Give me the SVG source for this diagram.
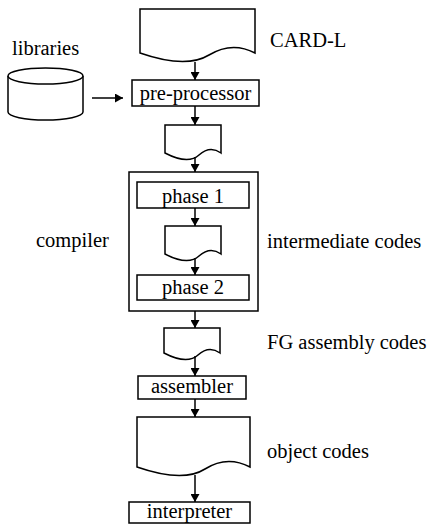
<svg xmlns="http://www.w3.org/2000/svg" width="429" height="524" viewBox="0 0 429 524">
<style>
.s{fill:#fff;stroke:#000;stroke-width:1.5}
.t{font-family:'Liberation Serif','Times New Roman',serif;font-size:20.5px;fill:#000}
.c{text-anchor:middle}
.l{stroke:#000;stroke-width:1.5;fill:none}
</style>
<defs>
<marker id="ah" markerWidth="8" markerHeight="9" refX="8" refY="4.5" orient="auto" markerUnits="userSpaceOnUse">
<path d="M0,0 L8,4.5 L0,9 Z" fill="#000"/>
</marker>
</defs>
<rect width="429" height="524" fill="#fff"/>
<g id="card-l">
<path class="s" d="M140,9 H255 V53 Q232,41 209,55 T140,53 Z"/>
<text class="t" x="270" y="47">CARD-L</text>
</g>
<g id="libraries">
<path class="s" d="M8,76 V112 A37.5,8 0 0 0 83,112 V76"/>
<ellipse class="s" cx="45.5" cy="76" rx="37.5" ry="8"/>
<text class="t" x="12" y="55">libraries</text>
</g>
<g id="pre-processor">
<rect class="s" x="132" y="80" width="127" height="26"/>
<text class="t c" x="195.5" y="100">pre-processor</text>
</g>
<g id="doc1">
<path class="s" d="M165,125 H221 V153 Q210,145 199,155 T165,153 Z"/>
</g>
<g id="compiler">
<rect class="s" x="129" y="172" width="129" height="139"/>
<text class="t" x="36" y="247">compiler</text>
</g>
<g id="phase1">
<rect class="s" x="137" y="182" width="112" height="26"/>
<text class="t c" x="193" y="203">phase 1</text>
</g>
<g id="intermediate">
<path class="s" d="M165,226 H221 V254 Q210,246 199,256 T165,254 Z"/>
<text class="t" x="267" y="248">intermediate codes</text>
</g>
<g id="phase2">
<rect class="s" x="137" y="275" width="112" height="25"/>
<text class="t c" x="193" y="294">phase 2</text>
</g>
<g id="fg-assembly">
<path class="s" d="M164,328 H220 V353 Q209,345 198,355 T164,353 Z"/>
<text class="t" x="267" y="349">FG assembly codes</text>
</g>
<g id="assembler">
<rect class="s" x="138" y="376" width="108" height="23"/>
<text class="t c" x="192" y="393">assembler</text>
</g>
<g id="object">
<path class="s" d="M137,417 H250 V467 Q227,455 205,469 T137,467 Z"/>
<text class="t" x="267" y="458">object codes</text>
</g>
<g id="interpreter">
<rect class="s" x="129" y="502" width="121" height="21"/>
<text class="t c" x="189.5" y="518">interpreter</text>
</g>
<g id="connectors">
<line class="l" x1="195" y1="62" x2="195" y2="80" marker-end="url(#ah)"/>
<line class="l" x1="92" y1="98" x2="123" y2="98" marker-end="url(#ah)"/>
<line class="l" x1="195" y1="106" x2="195" y2="125" marker-end="url(#ah)"/>
<line class="l" x1="195" y1="157" x2="195" y2="172" marker-end="url(#ah)"/>
<line class="l" x1="195" y1="208" x2="195" y2="226" marker-end="url(#ah)"/>
<line class="l" x1="195" y1="258" x2="195" y2="275" marker-end="url(#ah)"/>
<line class="l" x1="195" y1="311" x2="195" y2="328" marker-end="url(#ah)"/>
<line class="l" x1="195" y1="356" x2="195" y2="376" marker-end="url(#ah)"/>
<line class="l" x1="195" y1="399" x2="195" y2="417" marker-end="url(#ah)"/>
<line class="l" x1="195" y1="475" x2="195" y2="502" marker-end="url(#ah)"/>
</g>
</svg>
